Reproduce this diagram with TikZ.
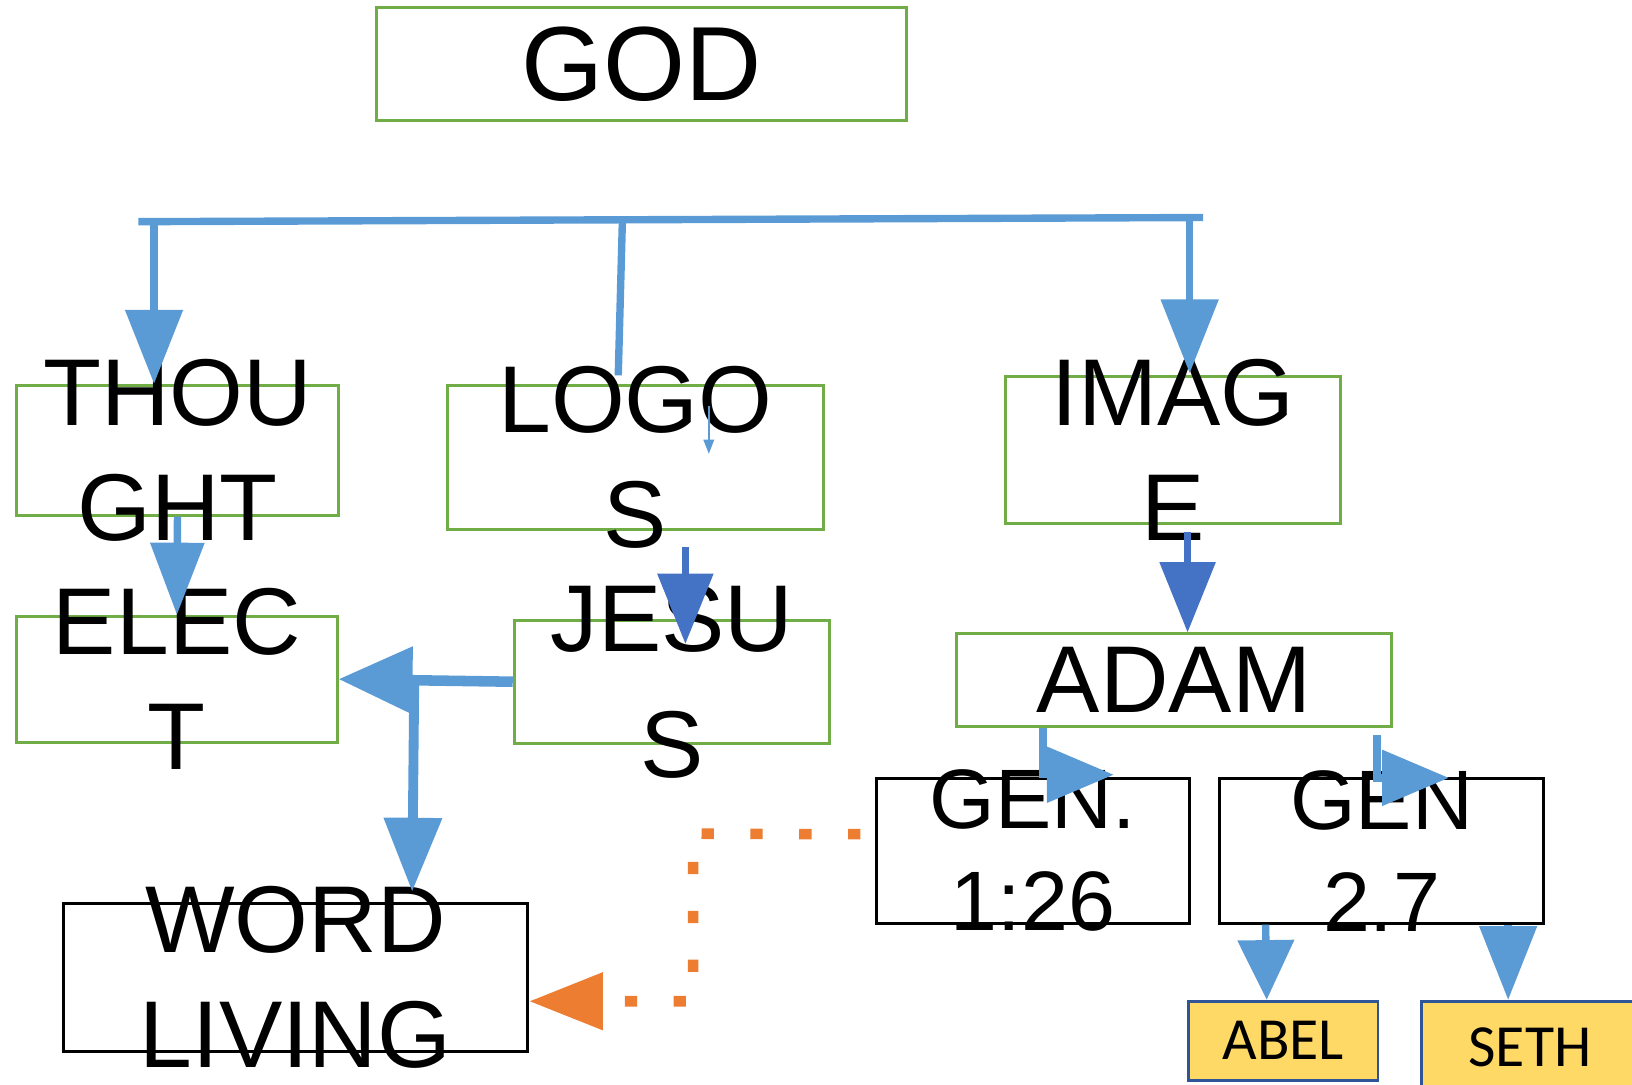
\documentclass[tikz,border=0pt]{standalone}
\usepackage{fontspec}
\setmainfont{Liberation Sans}
\newfontfamily\calibri{Carlito}
\usetikzlibrary{arrows.meta,fit,calc}
\definecolor{lblue}{HTML}{5B9BD5}
\definecolor{dblue}{HTML}{4472C4}
\definecolor{lgreen}{HTML}{70AD47}
\definecolor{orng}{HTML}{ED7D31}
\definecolor{gold}{HTML}{FFD966}
\definecolor{navy}{HTML}{2F5597}
\tikzset{
  gbox/.style={draw=lgreen, line width=0.8pt, inner sep=0pt},
  kbox/.style={draw=black, line width=0.8pt, inner sep=0pt},
  ybox/.style={draw=navy, fill=gold, line width=0.8pt, inner sep=0pt},
  txt/.style={font=\fontsize{27}{32.6}\selectfont, align=center, inner sep=0pt},
  lbarrow/.style={draw=lblue, line width=2.1pt, -{Triangle[length=21pt,width=16pt]}},
  dbarrow/.style={draw=dblue, line width=2.1pt, -{Triangle[length=20pt,width=15.5pt]}}
}
\begin{document}
\begin{tikzpicture}[x=0.0104cm, y=-0.0104cm]
\useasboundingbox (0,0) rectangle (1568,1042);

% boxes
\node[gbox, fit={(362,7) (871,116)}] (god) {};
\node[gbox, fit={(16,370) (325,495)}] (thought) {};
\node[gbox, fit={(430,370) (791,509)}] (logos) {};
\node[gbox, fit={(966,362) (1288,503)}] (image) {};
\node[gbox, fit={(16,592) (324,713)}] (elect) {};
\node[gbox, fit={(494,596) (797,714)}] (jesus) {};
\node[gbox, fit={(919,609) (1337,698)}] (adam) {};
\node[kbox, fit={(61,868) (507,1010)}] (word) {};
\node[kbox, fit={(842,748) (1143,887)}] (gen1) {};
\node[kbox, fit={(1172,748) (1483,887)}] (gen2) {};
\node[ybox, fit={(1142,962) (1324,1038)}] (abel) {};
\node[ybox, fit={(1366,962) (1574,1051)}] (seth) {};

% texts, wider than their boxes
\node[txt, font=\fontsize{30}{36}\selectfont] (god-t) at (god) {GOD};
\node[txt] (thought-t) at (thought) {THOU\\GHT};
\node[txt] (logos-t) at (logos) {LOGO\\S};
\node[txt] (image-t) at (image) {IMAG\\E};
\node[txt] (elect-t) at (elect) {ELEC\\T};
\node[txt, font=\fontsize{27}{36}\selectfont] (jesus-t) at (jesus) {JESU\\S};
\node[txt] (adam-t) at (adam) {ADAM};
\node[txt] (word-t) at (word) {WORD\\LIVING};
\node[txt, font=\fontsize{24}{29}\selectfont] (gen1-t) at (gen1) {GEN.\\1:26};
\node[txt, font=\fontsize{24}{29}\selectfont] (gen2-t) at (gen2) {GEN\\2.7};
\node[font=\calibri\fontsize{17}{20}\selectfont] (abel-t) at (abel) {ABEL};
\node[font=\calibri\fontsize{17}{20}\selectfont] (seth-t) at (seth) {SETH};

% the bar under GOD
\coordinate (barL) at (133,213);
\coordinate (barR) at (1156,209);
\coordinate (j1) at (148,212);
\coordinate (j2) at (598,211);
\coordinate (j3) at (1143,210);
\draw[lblue, line width=2.1pt] (barL) -- (barR);
\draw[lbarrow] (j1) -- (j1 |- thought.north);
\draw[lblue, line width=2.1pt] (j2) -- ($(logos.north)+(-16.5,-8)$);
\draw[lbarrow] (j3) -- ($(j3 |- image.north)+(0,-2)$);

\draw[lbarrow, -{Triangle[length=20.5pt,width=15pt]}] (thought.south) -- (elect.north);
\draw[dbarrow] ($(logos.south)+(48,15)$) -- ($(jesus.north)+(13,24)$);
\draw[dbarrow] ($(image.south)+(14,7)$) -- ($(adam.north)+(13,0)$);

\coordinate (tinyA) at (681,390);
\coordinate (tinyB) at (681,436);
\draw[lblue, line width=0.5pt, -{Triangle[length=4pt,width=3pt]}] (tinyA) -- (tinyB);

\draw[lbarrow, line width=3pt, -{Triangle[length=21pt,width=18.5pt]}] (jesus.west) -- (elect.east);
\coordinate (split) at (398,655);
\draw[lbarrow, line width=2.8pt] (split) -- ($(split |- word.north)+(-2,-10)$);

% dotted link to the word
\coordinate (obend1) at (666,801);
\coordinate (obend2) at (666,962);
\draw[orng, line width=3pt, dash pattern=on 3.5pt off 10.4pt,
  -{Triangle[length=21pt,width=15.7pt]}]
  ($(gen1.west)+(-14,-16)$) -- (obend1) -- (obend2) -- (obend2 -| word.east);

\draw[lbarrow, -{Triangle[length=19pt,width=15.5pt]}] ($(adam.south)+(-126,0)$) |- ($(adam.south)+(-58,45)$);
\draw[lbarrow, -{Triangle[length=19pt,width=15.5pt]}] ($(adam.south)+(195,7)$) |- ($(adam.south)+(264,48)$);

\draw[lbarrow, -{Triangle[length=17pt,width=15.7pt]}] ($(gen2.south)+(-111.5,0)$) -- ($(abel.north)+(-16,0)$);
\draw[lbarrow] ($(gen2.south)+(121.5,0)$) -- ($(seth.north)+(-21,0)$);
\end{tikzpicture}
\end{document}
